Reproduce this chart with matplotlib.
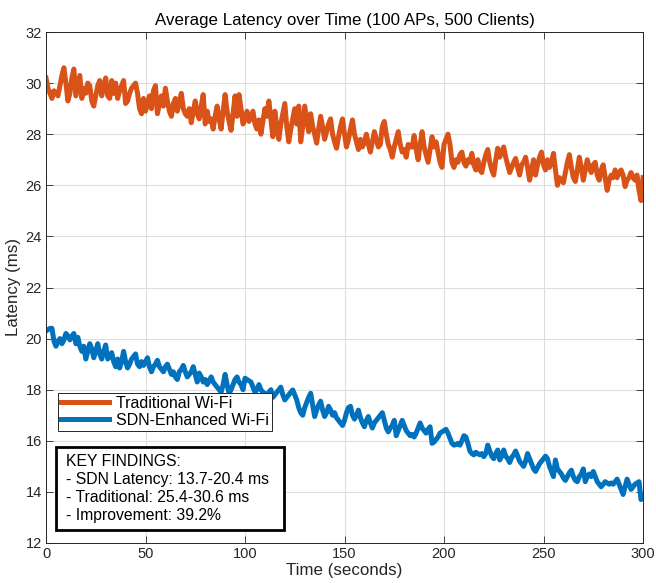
import numpy as np
import matplotlib
matplotlib.use("Agg")
import matplotlib.pyplot as plt
from matplotlib.patches import Rectangle

plt.rcParams['font.family'] = ['Liberation Sans', 'DejaVu Sans']

# Time axis (seconds) and per-second average latency (ms)
time_s = np.arange(0, 301)

traditional_ms = [
    30.2, 29.8, 29.6, 29.4, 29.7, 29.6, 29.5, 29.9, 30.3, 30.6, 30.0,
    29.3, 29.6, 30.2, 30.55, 29.5, 29.9, 30.3, 29.4, 29.8, 29.6,
    30.0, 29.9, 29.3, 29.1, 29.5, 29.9, 30.1, 29.5, 29.9, 30.2,
    29.5, 29.4, 30.1, 29.6, 30.0, 29.4, 29.7, 29.9, 30.1, 29.2,
    29.3, 29.6, 29.8, 29.9, 30.0, 29.6, 29.0, 28.8, 29.4, 28.9,
    29.2, 29.5, 29.0, 29.7, 29.9, 28.8, 29.2, 29.5, 29.1, 29.8,
    29.3, 28.9, 28.7, 29.2, 29.4, 28.9, 29.3, 29.6, 29.0, 28.8,
    28.7, 29.0, 28.45, 28.9, 29.3, 28.8, 28.6, 29.1, 29.55, 28.4,
    28.9, 28.5, 28.6, 28.2, 28.7, 29.1, 28.6, 28.2, 28.9, 29.55,
    28.9, 28.5, 28.15, 28.8, 29.5, 28.7, 29.55, 29.0, 28.4, 28.6,
    28.9, 28.5, 28.7, 28.9, 28.4, 28.2, 28.56, 28.0, 28.5, 29.0,
    28.7, 29.3, 28.6, 27.9, 28.9, 28.3, 27.8, 28.4, 28.8, 29.2,
    28.3, 27.7, 28.2, 28.6, 29.0, 28.4, 29.1, 27.7, 28.3, 29.1,
    28.6, 28.1, 28.8, 28.3, 28.0, 27.65, 28.2, 28.7, 28.3, 27.8,
    28.1, 28.4, 28.6, 28.0, 27.7, 27.45, 27.9, 28.3, 28.6, 28.0,
    27.5, 27.8, 28.2, 28.56, 28.0, 27.7, 27.4, 27.8, 27.5, 27.7,
    28.0, 27.6, 27.3, 27.7, 28.1, 27.8, 27.5, 27.6, 28.3, 28.5,
    28.0, 27.6, 27.4, 27.1, 27.5, 27.8, 28.1, 27.6, 27.3, 27.4,
    27.1, 27.6, 27.5, 27.5, 27.95, 27.4, 27.0, 27.6, 28.1, 27.5,
    27.2, 26.9, 27.4, 27.9, 27.5, 27.7, 27.3, 26.9, 26.7, 27.6,
    27.8, 28.0, 27.6, 26.9, 26.7, 27.0, 26.9, 27.2, 27.3, 26.9,
    26.75, 27.0, 26.9, 27.25, 26.8, 26.6, 27.0, 26.6, 26.5, 26.9,
    27.2, 27.4, 26.9, 26.6, 26.4, 27.0, 27.45, 27.1, 27.3, 27.5,
    27.1, 26.8, 26.5, 26.7, 26.9, 27.05, 26.7, 26.4, 26.8, 26.9,
    27.1, 26.7, 26.2, 26.6, 27.0, 26.4, 26.8, 27.1, 27.3, 26.8,
    26.6, 27.0, 26.7, 26.9, 27.25, 26.6, 26.0, 26.3, 26.2, 26.1,
    26.5, 26.9, 27.2, 26.7, 26.3, 26.15, 26.6, 27.1, 26.7, 26.2,
    26.6, 27.0, 26.7, 26.5, 26.8, 26.9, 26.4, 26.2, 26.6, 26.8,
    26.3, 25.8, 26.2, 26.4, 26.3, 26.6, 26.3, 26.5, 26.6, 26.4,
    25.95, 26.2, 26.3, 26.5, 26.3, 26.2, 26.4, 25.8, 25.4, 26.3,
]

sdn_ms = [
    20.3, 20.35, 20.4, 20.4, 19.9, 19.7, 19.9, 20.0, 19.8, 19.95, 20.2,
    20.1, 19.95, 20.1, 20.2, 19.8, 20.05, 19.7, 19.5, 19.7, 19.2,
    19.5, 19.8, 19.6, 19.25, 19.5, 19.8, 19.4, 19.2, 19.5, 19.75,
    19.2, 19.3, 19.45, 19.1, 18.9, 19.2, 18.85, 19.1, 19.5, 19.1,
    18.85, 19.0, 19.2, 19.3, 19.4, 19.0, 18.9, 19.1, 18.95, 19.1,
    19.25, 18.9, 18.7, 18.9, 19.0, 19.15, 18.9, 18.8, 18.7, 18.9,
    19.0, 18.8, 18.6, 18.7, 18.5, 18.4, 18.7, 18.8, 18.95, 18.7,
    18.5, 18.6, 18.7, 18.9, 18.6, 18.3, 18.65, 18.5, 18.3, 18.4,
    18.2, 18.35, 18.5, 18.3, 18.2, 18.1, 18.0, 17.9, 18.2, 18.6,
    18.2, 17.85, 18.0, 18.2, 18.4, 18.5, 18.3, 18.2, 18.0, 18.45,
    18.4, 18.35, 18.3, 18.1, 17.9, 18.0, 18.2, 18.0, 17.9, 17.85,
    17.8, 17.9, 18.0, 17.7, 17.8, 17.9, 18.0, 18.1, 17.8, 17.6,
    17.7, 17.8, 17.9, 17.99, 17.8, 17.6, 17.3, 17.1, 17.0, 17.3,
    17.5, 17.7, 17.86, 17.4, 16.95, 17.2, 17.4, 17.55, 17.2, 16.95,
    17.1, 17.35, 17.2, 17.0, 17.1, 16.9, 16.8, 16.7, 16.6, 16.8,
    17.1, 17.3, 17.35, 17.0, 16.85, 17.0, 17.2, 16.9, 16.7, 16.55,
    16.8, 16.95, 16.7, 16.5, 16.7, 16.8, 16.9, 17.0, 17.1, 16.8,
    16.5, 16.35, 16.5, 16.6, 16.8, 16.2, 16.4, 16.6, 16.8, 16.6,
    16.4, 16.3, 16.2, 16.25, 16.15, 16.3, 16.5, 16.7, 16.5, 16.4,
    16.3, 16.45, 16.55, 15.9, 15.95, 16.05, 16.15, 16.3, 16.35, 16.4,
    16.45, 16.3, 16.1, 15.9, 15.83, 15.85, 15.9, 15.83, 16.0, 16.2,
    16.15, 15.9, 15.6, 15.5, 15.45, 15.55, 15.5, 15.45, 15.5, 15.38,
    15.5, 15.83, 15.6, 15.4, 15.3, 15.5, 15.64, 15.25, 15.4, 15.64,
    15.4, 15.3, 15.15, 15.35, 15.45, 15.6, 15.4, 15.2, 15.1, 15.0,
    15.2, 15.5, 15.3, 15.1, 14.9, 14.8, 14.95, 15.1, 15.2, 15.3,
    15.4, 15.3, 15.0, 14.8, 14.6, 15.25, 14.9, 14.8, 14.7, 14.55,
    14.45, 14.6, 14.75, 14.85, 14.6, 14.45, 14.4, 14.6, 14.7, 14.9,
    14.4, 14.6, 14.7, 14.6, 14.8, 14.6, 14.4, 14.3, 14.2, 14.3,
    14.4, 14.35, 14.3, 14.35, 14.3, 14.4, 14.5, 14.3, 14.1, 13.9,
    14.2, 14.5, 14.3, 14.1, 14.2, 14.3, 14.35, 14.4, 13.7, 13.85,
]

series_labels = ["Traditional Wi-Fi", "SDN-Enhanced Wi-Fi"]
x_ticks = [0, 50, 100, 150, 200, 250, 300]
y_ticks = [12, 14, 16, 18, 20, 22, 24, 26, 28, 30, 32]
improvement_pct = 39.2

ORANGE = "#D95319"
BLUE = "#0072BD"
AXCOL = "#262626"

fig = plt.figure(figsize=(6.56, 5.83), dpi=100)
ax = fig.add_axes([46 / 656, 40 / 583, 597 / 656, 511 / 583])

ax.plot(time_s, traditional_ms, color=ORANGE, lw=3.6, label=series_labels[0],
        solid_joinstyle='round')
ax.plot(time_s, sdn_ms, color=BLUE, lw=3.6, label=series_labels[1],
        solid_joinstyle='round')

ax.set_xlim(0, 300)
ax.set_ylim(12, 32)
ax.set_xticks(x_ticks)
ax.set_yticks(y_ticks)
ax.grid(True, color="#dedede", lw=0.8)
ax.set_axisbelow(True)
ax.tick_params(direction='in', length=5, width=0.6, colors=AXCOL,
               labelsize=10.5, top=True, right=True, pad=3)
for sp in ax.spines.values():
    sp.set_color(AXCOL)
    sp.set_linewidth(0.7)

ax.set_title("Average Latency over Time (100 APs, 500 Clients)",
             fontsize=12.2, color="black", pad=5)
ax.set_xlabel("Time (seconds)", fontsize=12.2, color=AXCOL, labelpad=1)
ax.set_ylabel("Latency (ms)", fontsize=12.2, color=AXCOL, labelpad=3)

leg = ax.legend(loc='upper left', bbox_to_anchor=(0.02, 0.294),
                fontsize=11.5, frameon=True, fancybox=False, framealpha=1,
                edgecolor=AXCOL, handlelength=3.0, handletextpad=0.45,
                borderpad=0.2, labelspacing=0.1, borderaxespad=0)
leg.get_frame().set_linewidth(0.7)

# Summary box
ax.add_patch(Rectangle((0.017, 0.025), 0.382, 0.163, transform=ax.transAxes,
                       facecolor='white', edgecolor='black', lw=2, zorder=5))
t_min, t_max = min(traditional_ms), max(traditional_ms)
s_min, s_max = min(sdn_ms), max(sdn_ms)
summary = ("KEY FINDINGS:\n"
           f"- SDN Latency: {s_min:.1f}-{s_max:.1f} ms\n"
           f"- Traditional: {t_min:.1f}-{t_max:.1f} ms\n"
           f"- Improvement: {improvement_pct:.1f}%")
ax.text(0.034, 0.175, summary, transform=ax.transAxes, fontsize=11.3,
        va='top', ha='left', linespacing=1.25, color='black', zorder=6)

fig.savefig("out.png", dpi=100)
